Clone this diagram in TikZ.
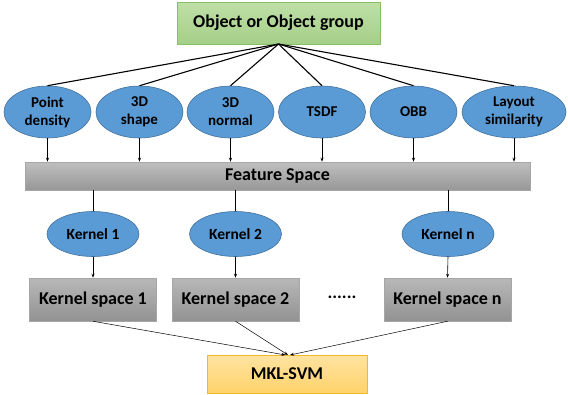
\documentclass[tikz,border=0pt]{standalone}
\usepackage{fontspec}
\setmainfont{Carlito}
\usetikzlibrary{shapes.geometric,arrows.meta}
\definecolor{ellfill}{HTML}{5B9BD5}
\definecolor{elldraw}{HTML}{41719C}
\definecolor{gtop}{HTML}{BFDFA8}
\definecolor{gbot}{HTML}{A5CF88}
\definecolor{gdraw}{HTML}{86BF64}
\definecolor{ktop}{HTML}{B8B8B8}
\definecolor{kbot}{HTML}{929292}
\definecolor{kdraw}{HTML}{A6A6A6}
\definecolor{ytop}{HTML}{FFE3A0}
\definecolor{ybot}{HTML}{FFD36C}
\definecolor{ydraw}{HTML}{F2B92A}
\tikzset{
  feat/.style={ellipse, fill=ellfill, draw=elldraw, line width=0.6pt, minimum width=87pt, minimum height=52pt, inner sep=0pt, align=center, font=\bfseries\fontsize{15}{18}\selectfont},
  kern/.style={ellipse, fill=ellfill, draw=elldraw, line width=0.6pt, minimum width=92pt, minimum height=45pt, inner sep=0pt, font=\bfseries\fontsize{15.5}{18}\selectfont},
  gbox/.style={rectangle, top color=ktop, bottom color=kbot, draw=kdraw, line width=0.5pt, inner sep=0pt, font=\bfseries\fontsize{18}{20}\selectfont},
  topline/.style={line width=1.1pt},
  arr/.style={line width=0.6pt, -{Stealth[length=4pt,width=3pt]}},
  plain/.style={line width=0.6pt},
  thin arr/.style={line width=0.5pt, -{Stealth[length=4pt,width=3pt]}}
}
\begin{document}
\begin{tikzpicture}[x=1pt,y=-1pt]
\useasboundingbox (0,0) rectangle (568,394);
% top
\node[rectangle, top color=gtop, bottom color=gbot, draw=gdraw, line width=0.6pt, minimum width=203pt, minimum height=42pt, inner sep=0pt, font=\bfseries\fontsize{18}{20}\selectfont] (obj) at (278.5,23) {Object or Object group};
% features
\node[feat] (f1) at (47.5,112) {Point\\density};
\node[feat] (f2) at (139.5,112) {3D\\shape};
\node[feat] (f3) at (230.5,112) {3D\\normal};
\node[feat] (f4) at (322,112) {TSDF};
\node[feat] (f5) at (413.5,112) {OBB};
\node[feat, minimum width=104pt] (f6) at (514,112) {Layout\\similarity};
\coordinate (hub) at (278.5,44);
\foreach \f in {f1,f2,f3,f4,f5,f6}{\draw[topline] (hub) -- (\f.north);}
% feature space
\node[gbox, minimum width=505pt, minimum height=28pt, top color=ktop!90!white, bottom color=kbot!95!white] (fs) at (277.5,176) {Feature Space};
\foreach \f in {f1,f2,f3,f4,f5,f6}{\draw[arr] (\f.south) -- (\f.south |- fs.north);}
% kernels
\node[kern] (k1) at (93,234) {Kernel 1};
\node[kern] (k2) at (235.5,234) {Kernel 2};
\node[kern] (kn) at (448,234) {Kernel n};
\foreach \k in {k1,k2,kn}{\draw[plain] (\k.north |- fs.south) -- (\k.north);}
% kernel spaces
\node[gbox, minimum width=127pt, minimum height=43pt] (s1) at (93,299.5) {Kernel space 1};
\node[gbox, minimum width=127pt, minimum height=43pt] (s2) at (235.5,299.5) {Kernel space 2};
\node[gbox, minimum width=127pt, minimum height=43pt] (sn) at (447.5,299.5) {Kernel space n};
\node[font=\bfseries\fontsize{18}{20}\selectfont, inner sep=0pt] (dots) at (342,297) {......};
\draw[arr] (k1.south) -- (s1.north);
\draw[arr] (k2.south) -- (s2.north);
\draw[arr] (kn.south) -- (sn.north);
% MKL
\node[rectangle, top color=ytop, bottom color=ybot, draw=ydraw, line width=0.7pt, minimum width=160pt, minimum height=38pt, inner sep=0pt, font=\bfseries\fontsize{18}{20}\selectfont] (mkl) at (287,374) {MKL-SVM};
\coordinate (m1) at (285.5,355);
\coordinate (m2) at (288,355);
\coordinate (m3) at (290,355);
\draw[thin arr] (s1.south) -- (m1);
\draw[thin arr] (s2.south) -- (m2);
\draw[thin arr] (sn.south) -- (m3);
\end{tikzpicture}
\end{document}
